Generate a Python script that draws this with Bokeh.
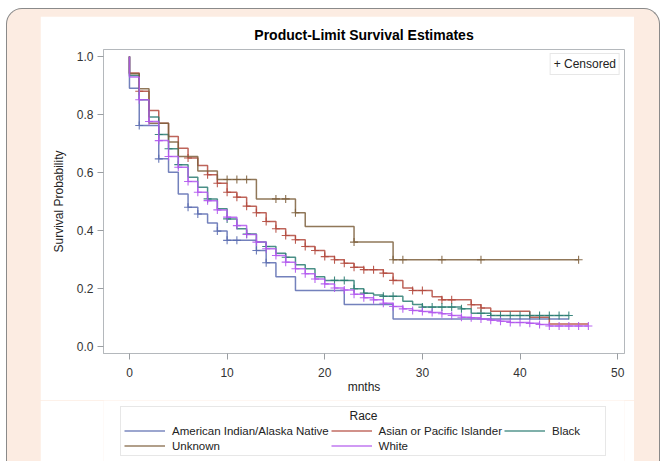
import numpy as np
from bokeh.plotting import figure
from bokeh.models import Legend, LegendItem, Range1d, FixedTicker, PrintfTickFormatter, Label
from bokeh.layouts import column
from bokeh.embed import file_html
from bokeh.resources import INLINE

# ---------------- data ----------------
groups = ["American Indian/Alaska Native", "Asian or Pacific Islander", "Black", "Unknown", "White"]
colors = ["#5a6bb0", "#b3493d", "#2a7c72", "#7d5f3c", "#b157ee"]
legend_title = "Race"

ami_t = [0, 1, 3, 4, 5, 6, 7, 8, 9, 10, 13, 14, 15, 17, 22, 27]
ami_s = [0.89, 0.762, 0.647, 0.601, 0.526, 0.480, 0.457, 0.426, 0.398, 0.366, 0.331, 0.289, 0.241, 0.193, 0.145, 0.095]
ami_end = 45
ami_cens = [1, 3, 6, 7, 9, 10, 11, 13, 14]

api_t = [0, 1, 2, 3, 4, 5, 6, 7, 8, 9, 10, 11, 12, 13, 14, 15, 16, 17, 18, 19, 20, 21, 22, 23, 24, 26, 27, 28, 29, 31, 32, 35, 36, 37, 41, 43]
api_s = [0.943, 0.880, 0.814, 0.770, 0.724, 0.684, 0.650, 0.624, 0.592, 0.563, 0.532, 0.515, 0.484, 0.461, 0.431, 0.406, 0.383, 0.368, 0.345, 0.331, 0.310, 0.299, 0.287, 0.273, 0.265, 0.253, 0.228, 0.202, 0.193, 0.172, 0.161, 0.144, 0.133, 0.122, 0.101, 0.078]
api_end = 47
api_cens = [1, 6, 8, 9, 10, 11, 12, 13, 14, 15, 16, 17, 18, 19, 20, 21, 22, 23, 24, 25, 26, 27, 29, 30, 32, 33, 35, 36]

blk_t = [0, 1, 2, 3, 4, 5, 6, 7, 8, 9, 10, 11, 12, 13, 14, 15, 16, 17, 18, 19, 20, 23, 24, 25, 26, 28, 29, 30, 34, 35, 37]
blk_s = [0.934, 0.851, 0.791, 0.731, 0.682, 0.627, 0.584, 0.549, 0.509, 0.475, 0.440, 0.406, 0.388, 0.360, 0.345, 0.322, 0.308, 0.282, 0.268, 0.241, 0.228, 0.199, 0.184, 0.178, 0.173, 0.156, 0.145, 0.136, 0.130, 0.115, 0.107]
blk_end = 45
blk_cens = [3, 4, 5, 8, 10, 12, 14, 16, 21, 22, 23, 24, 26, 27, 30, 31, 32, 33, 34, 36, 37, 38, 39, 40, 41, 42, 43, 44, 45]

unk_t = [0, 1, 2, 4, 5, 7, 9, 13, 17, 18, 23, 27]
unk_s = [0.94, 0.889, 0.770, 0.705, 0.655, 0.605, 0.576, 0.509, 0.461, 0.414, 0.360, 0.299]
unk_end = 46
unk_cens = [10, 11, 12, 15, 16, 17, 23, 27, 28, 32, 36, 46]

wht_t = [0, 1, 2, 3, 4, 5, 6, 7, 8, 9, 10, 11, 12, 13, 14, 15, 16, 17, 18, 19, 20, 21, 22, 23, 24, 25, 26, 27, 28, 29, 30, 31, 32, 33, 34, 35, 36, 37, 38, 39, 41, 42, 43]
wht_s = [0.929, 0.851, 0.776, 0.710, 0.655, 0.618, 0.569, 0.532, 0.503, 0.471, 0.446, 0.417, 0.386, 0.360, 0.337, 0.314, 0.291, 0.268, 0.251, 0.233, 0.216, 0.202, 0.195, 0.180, 0.168, 0.161, 0.149, 0.138, 0.130, 0.124, 0.121, 0.117, 0.113, 0.107, 0.101, 0.099, 0.095, 0.091, 0.087, 0.083, 0.080, 0.076, 0.071]
wht_end = 47
wht_cens = [1, 2, 3, 4, 5, 6, 7, 8, 9, 10, 11, 12, 13, 14, 15, 16, 17, 18, 19, 20, 21, 22, 23, 24, 25, 26, 27, 28, 29, 30, 31, 32, 33, 34, 35, 36, 37, 38, 39, 40, 41, 42, 43, 44, 45, 46, 47]

series = [
    (ami_t, ami_s, ami_end, ami_cens),
    (api_t, api_s, api_end, api_cens),
    (blk_t, blk_s, blk_end, blk_cens),
    (unk_t, unk_s, unk_end, unk_cens),
    (wht_t, wht_s, wht_end, wht_cens),
]

x_ticks = [0, 10, 20, 30, 40, 50]
y_ticks = [0.0, 0.2, 0.4, 0.6, 0.8, 1.0]

FONT = "Liberation Sans"
GREY = "#b4b8bc"


def step_xy(t, s, end):
    return [0] + list(t) + [end], [1.0] + list(s) + [s[-1]]


p = figure(width=594, height=384, output_backend="svg", toolbar_location=None,
           x_range=Range1d(-2.66, 50.7), y_range=Range1d(-0.024, 1.024),
           min_border_left=63, min_border_right=10, min_border_top=33, min_border_bottom=47,
           title="Product-Limit Survival Estimates",
           background_fill_color="white", border_fill_color="white")

p.title.align = "center"
p.title.text_font = FONT
p.title.text_font_size = "14px"
p.title.text_font_style = "bold"
p.title.text_color = "#000000"
p.title.standoff = 13

p.grid.visible = False
p.outline_line_color = GREY
p.outline_line_width = 1

for ax in (p.xaxis[0], p.yaxis[0]):
    ax.axis_line_color = GREY
    ax.major_tick_line_color = "#9a9ea2"
    ax.major_tick_out = 6
    ax.major_tick_in = 0
    ax.minor_tick_line_color = None
    ax.major_label_text_font = FONT
    ax.major_label_text_font_size = "12px"
    ax.major_label_text_color = "#333333"
    ax.axis_label_text_font = FONT
    ax.axis_label_text_font_size = "12px"
    ax.axis_label_text_font_style = "normal"
    ax.axis_label_text_color = "#222222"

p.xaxis.ticker = FixedTicker(ticks=x_ticks)
p.yaxis.ticker = FixedTicker(ticks=y_ticks)
p.yaxis.formatter = PrintfTickFormatter(format="%.1f")
p.xaxis.axis_label = "mnths"
p.yaxis.axis_label = "Survival Probability"
p.xaxis.major_label_standoff = 8
p.xaxis.axis_label_standoff = 0
p.yaxis.major_label_standoff = 4
p.yaxis.axis_label_standoff = 8

for name, col, (t, s, end, cens) in zip(groups, colors, series):
    xs, ys = step_xy(t, s, end)
    p.step(xs, ys, mode="after", line_color=col, line_width=1.5, line_alpha=0.85)
    tt = np.array(t, dtype=float)
    ss = np.array(s, dtype=float)
    cx = np.array(cens, dtype=float)
    idx = np.searchsorted(tt, cx, side="right") - 1
    cy = np.where(idx >= 0, ss[np.clip(idx, 0, None)], 1.0)
    p.scatter(cx, cy, marker="cross", size=8, line_color=col, line_width=1.1, line_alpha=0.9)

dummy = p.scatter([], [], marker="cross", size=7, line_color="black", line_width=1)
cens_legend = Legend(items=[LegendItem(label="+ Censored", renderers=[dummy])],
                     location="top_right", margin=4, padding=3, glyph_width=0, glyph_height=12,
                     label_height=12, label_standoff=0,
                     label_text_font=FONT, label_text_font_size="12px", label_text_color="#222222",
                     border_line_color="#cfcfcf", background_fill_alpha=1.0)
p.add_layout(cens_legend, "center")

# ---- legend panel (second figure, no axes; the curves sit outside its view) ----
p2 = figure(width=594, height=61, output_backend="svg", toolbar_location=None,
            x_axis_location=None, y_axis_location=None,
            min_border_left=63, min_border_right=10, min_border_top=0, min_border_bottom=0,
            x_range=Range1d(-200, -100), y_range=Range1d(0, 1),
            background_fill_color="white", border_fill_color="white")
p2.outline_line_color = None
p2.grid.visible = False

items = []
for name, col, (t, s, end, cens) in zip(groups, colors, series):
    xs, ys = step_xy(t, s, end)
    r = p2.line(xs, ys, line_color=col, line_width=1.4, line_alpha=0.8)
    items.append(LegendItem(label=name, renderers=[r]))

race_legend = Legend(items=items, ncols=3, orientation="horizontal", title=" ",
                     location=(17, 5), margin=0, padding=3, spacing=2,
                     glyph_width=41, glyph_height=13, label_height=13, label_standoff=7,
                     label_width=50,
                     label_text_font=FONT, label_text_font_size="11.5px", label_text_color="#222222",
                     title_text_font=FONT, title_text_font_size="12px", title_text_font_style="normal",
                     title_text_color="#222222", title_standoff=0,
                     border_line_color="#cfcfcf", background_fill_alpha=0.0)
p2.add_layout(race_legend, "center")
p2.add_layout(Label(x=260, y=46, x_units="screen", y_units="screen", text=legend_title,
                    text_align="center", text_baseline="middle", text_font=FONT,
                    text_font_size="12px", text_color="#222222", level="overlay"))

layout = column(p, p2, spacing=0,
                styles={"background-color": "#fcece2", "border": "1px solid #8a8a8a",
                        "border-bottom": "none", "border-radius": "16px 16px 0 0",
                        "padding": "7px 25px 0px 33px", "margin": "8px 0px 0px 6px"})

open("out.html", "w").write(file_html(layout, INLINE))
